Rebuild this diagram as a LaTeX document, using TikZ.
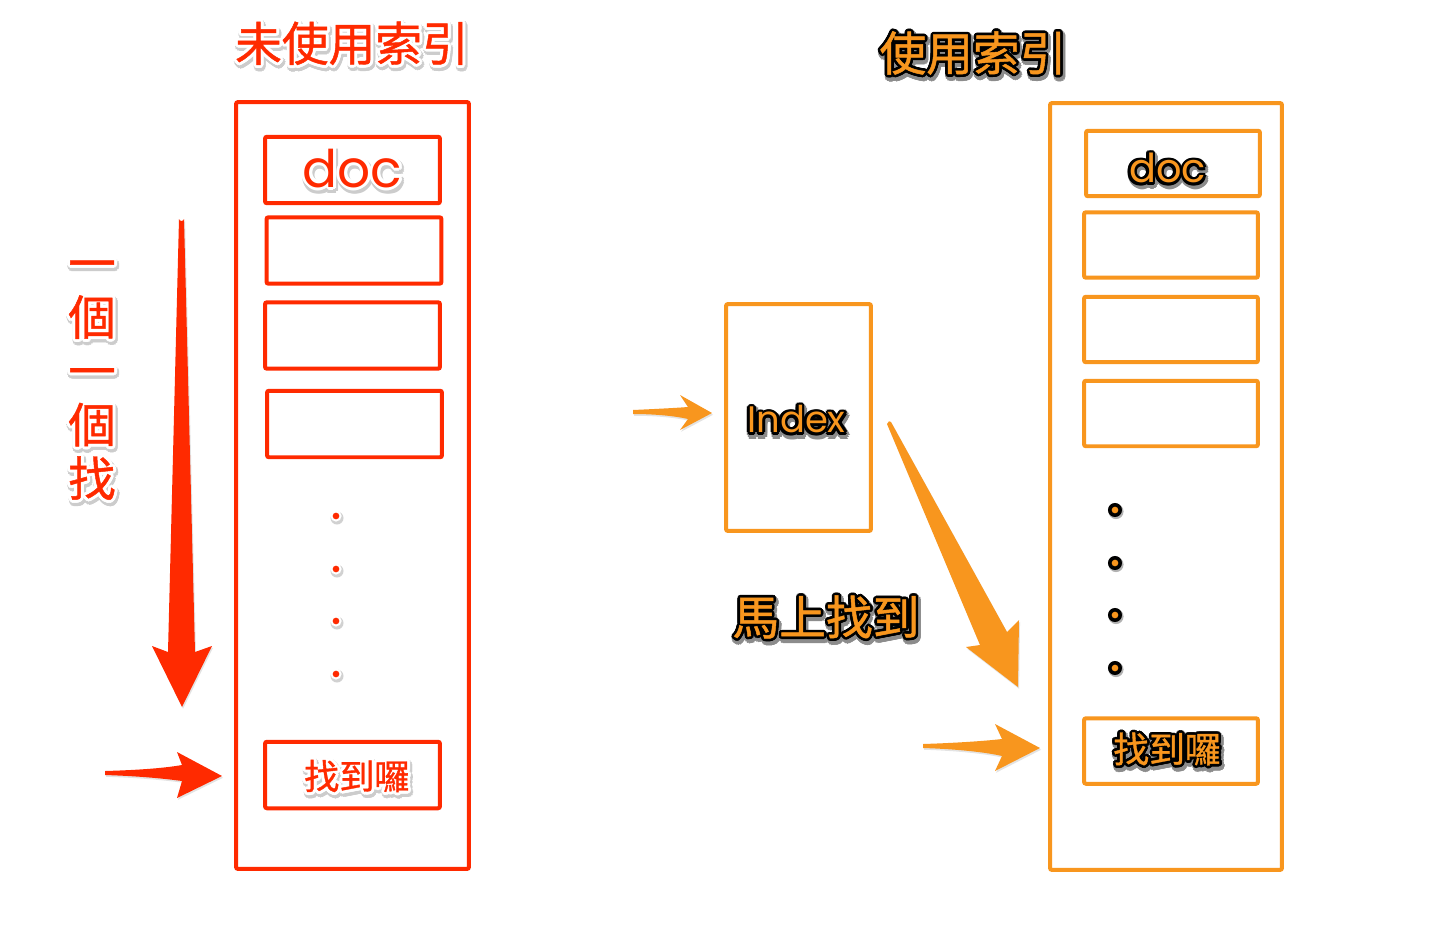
\documentclass[tikz,border=0pt]{standalone}
\usepackage{fontspec}
\usetikzlibrary{shadows}
\newfontfamily\cjk[FakeBold=1]{Noto Sans CJK TC}
\newfontfamily\geo{Poppins}
\definecolor{lred}{HTML}{FF2A00}
\definecolor{lorange}{HTML}{F8961E}

% ring of copies of #5 in colour #1, radius #2 (pt), centred on offset (#3,#4) (pt)
\newcommand\ringcopies[5]{%
  \foreach \hang in {0,30,...,330}{%
    \makebox[0pt][l]{\kern\fpeval{round(#3+#2*cosd(\hang),3)}pt%
      \raisebox{\fpeval{round(#4+#2*sind(\hang),3)}pt}{\color{#1}#5}}}}
% red lettering with a white rim and a soft grey shadow
\newcommand\redword[1]{\ringcopies{black!20}{2.2}{0.7}{-1.4}{#1}%
  \ringcopies{white}{1.7}{0}{0}{#1}\textcolor{lred}{#1}}
% orange lettering with a black rim and a dark shadow
\newcommand\orangeword[1]{\ringcopies{black!45}{2.2}{0.8}{-1.6}{#1}%
  \ringcopies{black}{1.5}{0}{0}{#1}\textcolor{lorange}{#1}}
% label placed with its baseline #1 below the box centre, shifted right by half of #2
\newcommand\placed[3]{\hspace{#2}\raisebox{#1}[0pt][0pt]{#3}}

\begin{document}
\begin{tikzpicture}[x=0.02cm, y=-0.02cm,
  redbox/.style={draw=lred, line width=0.08cm, rounded corners=0.04cm,
    inner sep=0pt, outer sep=0pt, minimum width=3.5cm, minimum height=1.33cm},
  orangebox/.style={draw=lorange, line width=0.08cm, rounded corners=0.04cm,
    inner sep=0pt, outer sep=0pt, minimum width=3.48cm, minimum height=1.31cm},
  arrowshade/.style={drop shadow={opacity=0.22, shadow xshift=0.6pt, shadow yshift=-1pt}},
  bigcjk/.style={font=\cjk\fontsize{26.6}{30}\selectfont},
  smallcjk/.style={font=\cjk\fontsize{20}{24}\selectfont}]

\useasboundingbox[fill=white] (0,0) rectangle (1434,930);

% ---------- left: scanning without an index ----------
\node[bigcjk] (titleL) at (352,45) {\redword{未使用索引}};

\node[redbox, minimum width=4.66cm, minimum height=15.34cm] (colL) at (352.5,485.5) {};
\node[redbox, font=\geo\fontsize{29.5}{32}\selectfont] (docL) at (352.5,170) {\redword{doc}};
\node[redbox] (rowL2) at (354,250.5) {};
\node[redbox] (rowL3) at (352.5,335.5) {};
\node[redbox] (rowL4) at (354.5,424) {};
\node[redbox, smallcjk] (foundL) at (352.5,775)
  {\placed{-8.2pt}{5pt}{\redword{找到囉}}};

\foreach \yy in {516,569,621,674}{
  \fill[black!18] (337,518) ++(0,\yy-516) circle (3.7pt);
  \fill[white] (336,\yy) circle (3.2pt);
  \fill[lred] (336,\yy) circle (1.9pt);
}

\node[font=\cjk\fontsize{27}{30.6}\selectfont, align=center] (scanText) at (92,382)
  {\redword{一}\\\redword{個}\\\redword{一}\\\redword{個}\\\redword{找}};

% long scanning arrow
\coordinate (scanTip) at (182,707);
\fill[lred, arrowshade] (179,219) -- (168,652) -- (152,646) -- (scanTip) -- (212,646)
  -- (195,652) -- (184,219) to[out=-90,in=-90,looseness=1.3] cycle;

% pointer to the found row
\coordinate (ptrL) at (222,776);
\fill[lred, arrowshade] (105,771) .. controls (140,770) and (165,768) .. (182,765)
  -- (177,752) -- (ptrL) -- (177,798) -- (182,781)
  .. controls (160,778) and (135,776) .. (105,775) -- cycle;

% ---------- right: lookup through an index ----------
\node[bigcjk] (titleR) at (973,55) {\orangeword{使用索引}};

\node[orangebox, minimum width=4.64cm, minimum height=15.34cm] (colR) at (1166,486.5) {};
\node[orangebox, font=\geo\fontsize{22.7}{26}\selectfont] (docR) at (1173,163.5)
  {\placed{-11pt}{-6.2pt}{\orangeword{doc}}};
\node[orangebox] (rowR2) at (1171,245) {};
\node[orangebox] (rowR3) at (1171,329.5) {};
\node[orangebox] (rowR4) at (1171,413.5) {};
\node[orangebox, font=\cjk\fontsize{20.4}{24}\selectfont] (foundR) at (1171,751)
  {\placed{-6.6pt}{-4.5pt}{\orangeword{找到囉}}};

\foreach \yy in {510,563,615,668}{
  \fill[black!30] (1116,\yy+1.5) circle (4.3pt);
  \fill[black] (1115,\yy) circle (4pt);
  \fill[lorange] (1115,\yy) circle (1.9pt);
}

\node[orangebox, minimum width=2.9cm, minimum height=4.54cm,
  font=\geo\fontsize{21}{24}\selectfont] (index) at (798.5,417.5)
  {\placed{-8.8pt}{-2.3pt}{\orangeword{Index}}};

\node[bigcjk] (quick) at (826,619) {\orangeword{馬上找到}};

% query arrow into the index
\coordinate (query) at (712,413);
\fill[lorange, arrowshade] (633,410) .. controls (655,409) and (675,408) .. (688,407)
  -- (680,395) -- (query) -- (680,430) -- (688,419)
  .. controls (675,416) and (655,414) .. (633,414) -- cycle;

% jump from the index straight to the row
\coordinate (jumpTip) at (1018,687);
\fill[lorange, arrowshade] (887,424) -- (980,645) -- (966,647) -- (jumpTip)
  -- (1019,620) -- (1007,632) -- (891,422) to[out=120,in=60,looseness=1.5] cycle;

% pointer to the found row
\coordinate (ptrR) at (1040,748);
\fill[lorange, arrowshade] (923,744) .. controls (955,743) and (985,741) .. (1002,739)
  -- (995,724) -- (ptrR) -- (995,771) -- (1002,756)
  .. controls (985,752) and (955,749) .. (923,748) -- cycle;

\end{tikzpicture}
\end{document}
